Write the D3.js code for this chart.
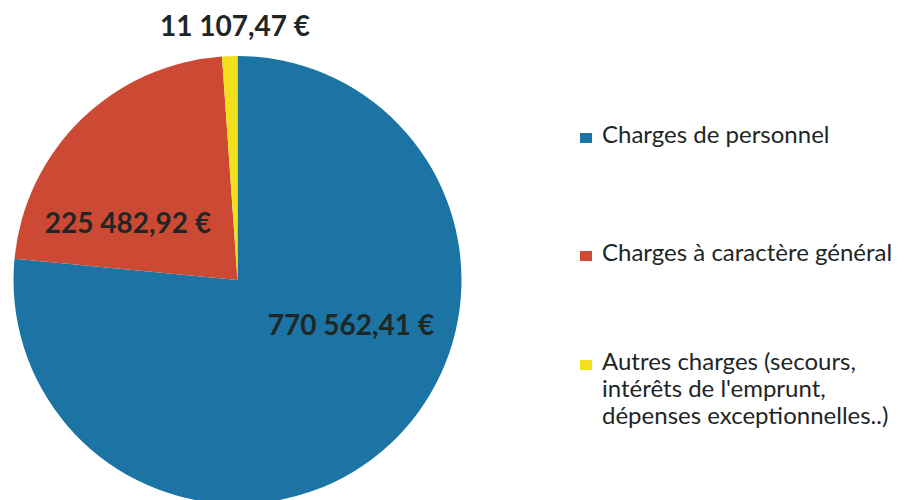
<!DOCTYPE html>
<html>
<head>
<meta charset="utf-8">
<script src="https://cdn.jsdelivr.net/npm/d3@7"></script>
<style>
  html, body { margin: 0; padding: 0; background: #ffffff; }
  svg { display: block; }
  text { font-family: Lato, "Open Sans", sans-serif; }
</style>
</head>
<body>
<svg id="chart" width="905" height="500"></svg>
<script>
// ---- data ----
const categories = ["Charges de personnel", "Charges à caractère général", "Autres charges (secours, intérêts de l'emprunt, dépenses exceptionnelles..)"];
const values = [770562.41, 225482.92, 11107.47];
const valueLabels = ["770 562,41 €", "225 482,92 €", "11 107,47 €"];
const legendLines = [
  ["Charges de personnel"],
  ["Charges à caractère général"],
  ["Autres charges (secours,", "intérêts de l'emprunt,", "dépenses exceptionnelles..)"]
];
const colors = ["#1b74a4", "#cc4a33", "#f2e11a"];

// ---- layout ----
const svg = d3.select("#chart");
const cx = 237.5, cy = 280, r = 224;

const pie = d3.pie().sort(null).value(d => d)(values);
const arc = d3.arc().innerRadius(0).outerRadius(r);

const g = svg.append("g").attr("transform", `translate(${cx},${cy})`);
g.selectAll("path").data(pie).enter().append("path")
  .attr("d", arc)
  .attr("fill", (d, i) => colors[i]);

// value label positions
const labelPos = [
  { x: 351, y: 335 },
  { x: 128, y: 233 },
  { x: 235, y: 36 }
];
svg.selectAll("text.val").data(pie).enter().append("text")
  .attr("class", "val")
  .attr("x", (d, i) => labelPos[i].x)
  .attr("y", (d, i) => labelPos[i].y)
  .attr("text-anchor", "middle")
  .attr("font-weight", "bold")
  .attr("font-size", 28)
  .attr("fill", "#1e2626")
  .text((d, i) => valueLabels[i]);

// legend
const legendY = [143, 261, 370];
const lg = svg.append("g");
legendLines.forEach((lines, i) => {
  lg.append("rect")
    .attr("x", 580).attr("y", legendY[i] - 10)
    .attr("width", 12).attr("height", 10)
    .attr("fill", colors[i]);
  lines.forEach((ln, j) => {
    lg.append("text")
      .attr("x", 602)
      .attr("y", legendY[i] + j * 27)
      .attr("font-size", 24)
      .attr("fill", "#1e2626")
      .text(ln);
  });
});
</script>
</body>
</html>
